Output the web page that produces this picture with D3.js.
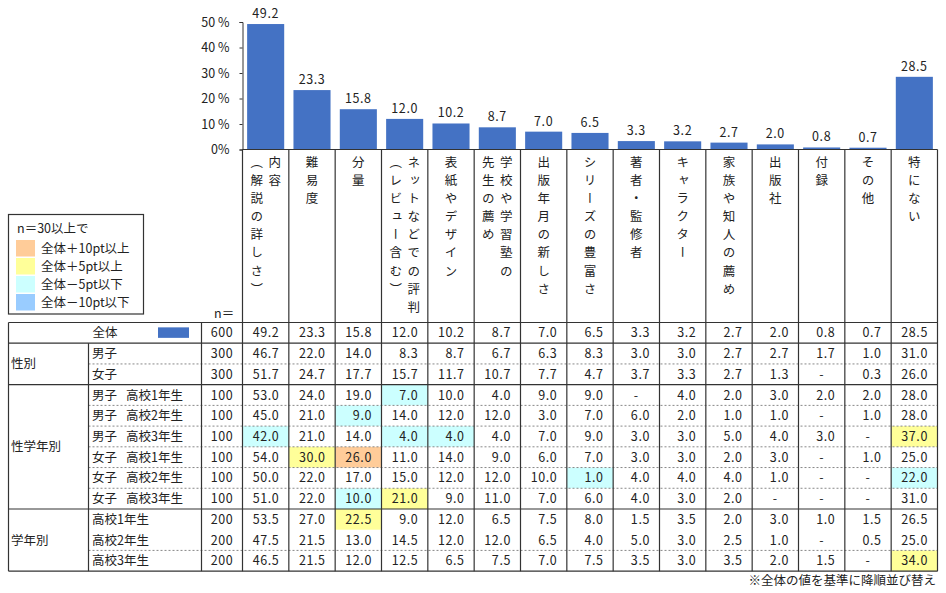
<!DOCTYPE html>
<html lang="ja">
<head>
<meta charset="UTF-8" />
<title>参考書を選ぶ際に重視すること</title>
<script src="https://d3js.org/d3.v7.min.js"></script>
<style>
    body { margin: 0; background: #fff; }
    svg { display: block; font-family: "Noto Sans CJK JP", "Noto Sans", sans-serif; }
    text { fill: #222; font-size: 12.5px; }
    .num { letter-spacing: 0.6px; }
    .vert { writing-mode: vertical-rl; letter-spacing: 5.6px; }
</style>
</head>
<body>
<svg id="chart"></svg>
<script>
    // header texts, one array entry per vertical column of characters (right to left)
    const categories = [
        ["内容", "（解説の詳しさ）"],
        ["難易度"],
        ["分量"],
        ["ネットなどでの評判", "（レビュー含む）"],
        ["表紙やデザイン"],
        ["学校や学習塾の", "先生の薦め"],
        ["出版年月の新しさ"],
        ["シリーズの豊富さ"],
        ["著者・監修者"],
        ["キャラクター"],
        ["家族や知人の薦め"],
        ["出版社"],
        ["付録"],
        ["その他"],
        ["特にない"]
    ];
    const catKeys = categories.map(d => d.join(""));

    const rowGroups = ["全体", "性別", "性別", "性学年別", "性学年別", "性学年別", "性学年別", "性学年別", "性学年別", "学年別", "学年別", "学年別"];
    const rowLabels = ["全体", "男子", "女子",
        "男子\u2002 高校1年生", "男子\u2002 高校2年生", "男子\u2002 高校3年生",
        "女子\u2002 高校1年生", "女子\u2002 高校2年生", "女子\u2002 高校3年生",
        "高校1年生", "高校2年生", "高校3年生"];
    const rowN = [600, 300, 300, 100, 100, 100, 100, 100, 100, 200, 200, 200];

    // null = "-"
    const values = [
        [49.2, 23.3, 15.8, 12.0, 10.2, 8.7, 7.0, 6.5, 3.3, 3.2, 2.7, 2.0, 0.8, 0.7, 28.5],
        [46.7, 22.0, 14.0, 8.3, 8.7, 6.7, 6.3, 8.3, 3.0, 3.0, 2.7, 2.7, 1.7, 1.0, 31.0],
        [51.7, 24.7, 17.7, 15.7, 11.7, 10.7, 7.7, 4.7, 3.7, 3.3, 2.7, 1.3, null, 0.3, 26.0],
        [53.0, 24.0, 19.0, 7.0, 10.0, 4.0, 9.0, 9.0, null, 4.0, 2.0, 3.0, 2.0, 2.0, 28.0],
        [45.0, 21.0, 9.0, 14.0, 12.0, 12.0, 3.0, 7.0, 6.0, 2.0, 1.0, 1.0, null, 1.0, 28.0],
        [42.0, 21.0, 14.0, 4.0, 4.0, 4.0, 7.0, 9.0, 3.0, 3.0, 5.0, 4.0, 3.0, null, 37.0],
        [54.0, 30.0, 26.0, 11.0, 14.0, 9.0, 6.0, 7.0, 3.0, 3.0, 2.0, 3.0, null, 1.0, 25.0],
        [50.0, 22.0, 17.0, 15.0, 12.0, 12.0, 10.0, 1.0, 4.0, 4.0, 4.0, 1.0, null, null, 22.0],
        [51.0, 22.0, 10.0, 21.0, 9.0, 11.0, 7.0, 6.0, 4.0, 3.0, 2.0, null, null, null, 31.0],
        [53.5, 27.0, 22.5, 9.0, 12.0, 6.5, 7.5, 8.0, 1.5, 3.5, 2.0, 3.0, 1.0, 1.5, 26.5],
        [47.5, 21.5, 13.0, 14.5, 12.0, 12.0, 6.5, 4.0, 5.0, 3.0, 2.5, 1.0, null, 0.5, 25.0],
        [46.5, 21.5, 12.0, 12.5, 6.5, 7.5, 7.0, 7.5, 3.5, 3.0, 3.5, 2.0, 1.5, null, 34.0]
    ];

    const yTicks = [0, 10, 20, 30, 40, 50];
    const legendTitle = "n＝30以上で";
    const legendItems = [
        { label: "全体＋10pt以上", color: "#ffcc99" },
        { label: "全体＋5pt以上", color: "#ffff99" },
        { label: "全体－5pt以下", color: "#ccffff" },
        { label: "全体－10pt以下", color: "#99ccff" }
    ];
    const note = "※全体の値を基準に降順並び替え";

    const width = 946, height = 593;
    const svg = d3.select("#chart").attr("width", width).attr("height", height);

    const tableLeft = 8.5, groupRight = 88.5, labelRight = 201.5, dataLeft = 242.5, dataRight = 937.5;
    const plotTop = 22, headerTop = 149.5, tableTop = 322.5, rowH = 20.72;
    const tableBottom = tableTop + rowH * values.length;
    const lineColor = "#333";

    const col = d3.scaleBand().domain(catKeys).range([dataLeft, dataRight]);
    const x = col.copy().paddingInner(0.2).paddingOuter(0.1);
    const y = d3.scaleLinear().domain([0, 50]).range([headerTop, plotTop]);
    const rowY = i => tableTop + i * rowH;

    // highlight class compared with 全体 (n>=30)
    function highlight(v, base, n) {
        if (n < 30) return null;
        const d = Math.round(((v ?? 0) - base) * 10) / 10;
        if (d >= 10) return legendItems[0].color;
        if (d >= 5) return legendItems[1].color;
        if (d <= -10) return legendItems[3].color;
        if (d <= -5) return legendItems[2].color;
        return null;
    }

    // bars
    svg.append("g")
        .selectAll("rect")
        .data(values[0])
        .join("rect")
        .attr("x", (d, i) => x(catKeys[i]))
        .attr("width", x.bandwidth())
        .attr("y", d => y(d))
        .attr("height", d => y(0) - y(d))
        .attr("fill", "#4472c4");

    svg.append("g")
        .attr("text-anchor", "middle")
        .selectAll("text")
        .data(values[0])
        .join("text")
        .attr("class", "num")
        .attr("x", (d, i) => x(catKeys[i]) + x.bandwidth() / 2)
        .attr("y", d => y(d) - 6)
        .text(d => d.toFixed(1));

    // y axis
    const yAxis = svg.append("g")
        .attr("transform", `translate(${dataLeft},0)`)
        .call(d3.axisLeft(y).tickValues(yTicks).tickSize(3).tickPadding(10)
            .tickFormat(d => d === 0 ? "0%" : d + " %"));
    yAxis.select(".domain").attr("stroke", lineColor);
    yAxis.selectAll(".tick line").attr("stroke", lineColor);
    yAxis.selectAll(".tick text").attr("font-size", null).attr("font-family", null).attr("fill", null);
    yAxis.attr("font-size", null).attr("font-family", null);

    // highlight cells
    const cells = [];
    values.forEach((row, r) => row.forEach((v, c) => {
        const fill = r === 0 ? null : highlight(v, values[0][c], rowN[r]);
        if (fill) cells.push({ r, c, fill });
    }));
    svg.append("g")
        .selectAll("rect")
        .data(cells)
        .join("rect")
        .attr("x", d => col(catKeys[d.c]))
        .attr("y", d => rowY(d.r))
        .attr("width", col.bandwidth())
        .attr("height", rowH)
        .attr("fill", d => d.fill);

    // header texts (vertical)
    const header = svg.append("g");
    categories.forEach((lines, i) => {
        const cx = col(catKeys[i]) + col.bandwidth() / 2;
        lines.forEach((t, j) => {
            const off = lines.length === 1 ? 0 : (j === 0 ? 9 : -9);
            header.append("text")
                .attr("class", "vert")
                .attr("x", cx + off)
                .attr("y", 156)
                .style("font-size", "12.5px")
                .text(t);
        });
    });

    // dashed row separators
    const dashed = [];
    for (let r = 1; r < values.length - 1; r++) {
        if (rowGroups[r] === rowGroups[r + 1] && rowLabels[r] !== "高校1年生") dashed.push(r + 1);
    }
    svg.append("g")
        .selectAll("line")
        .data(dashed)
        .join("line")
        .attr("x1", groupRight).attr("x2", dataRight)
        .attr("y1", d => rowY(d)).attr("y2", d => rowY(d))
        .attr("stroke", "#888")
        .attr("stroke-dasharray", "2,2");

    // solid horizontal lines
    const solid = [0];
    for (let r = 0; r < values.length; r++) {
        if (r === values.length - 1 || rowGroups[r] !== rowGroups[r + 1]) solid.push(r + 1);
    }
    const grid = svg.append("g").attr("stroke", lineColor).attr("stroke-width", 1.2);
    grid.selectAll("line.h")
        .data(solid)
        .join("line")
        .attr("class", "h")
        .attr("x1", tableLeft).attr("x2", dataRight)
        .attr("y1", d => rowY(d)).attr("y2", d => rowY(d));
    grid.append("line")
        .attr("x1", dataLeft).attr("x2", dataRight)
        .attr("y1", headerTop).attr("y2", headerTop);

    // vertical lines
    const colEdges = catKeys.map(k => col(k)).concat([dataRight]);
    grid.selectAll("line.v")
        .data(colEdges)
        .join("line")
        .attr("class", "v")
        .attr("x1", d => d).attr("x2", d => d)
        .attr("y1", headerTop).attr("y2", tableBottom);
    grid.append("line").attr("x1", tableLeft).attr("x2", tableLeft).attr("y1", tableTop).attr("y2", tableBottom);
    grid.append("line").attr("x1", labelRight).attr("x2", labelRight).attr("y1", tableTop).attr("y2", tableBottom);
    grid.append("line").attr("x1", groupRight).attr("x2", groupRight).attr("y1", rowY(1)).attr("y2", tableBottom);

    // row texts
    const rows = svg.append("g");
    values.forEach((row, r) => {
        const cy = rowY(r) + rowH / 2;
        if (r === 0) {
            rows.append("text").attr("x", 105).attr("y", cy).attr("dy", "0.36em")
                .attr("text-anchor", "middle").text(rowLabels[r]);
            rows.append("rect").attr("x", 158).attr("y", cy - 5.5)
                .attr("width", 31).attr("height", 10.5).attr("fill", "#4472c4");
        } else {
            rows.append("text").attr("x", 92).attr("y", cy).attr("dy", "0.36em")
                .text(rowLabels[r]);
        }
        rows.append("text").attr("class", "num").attr("x", (labelRight + dataLeft) / 2).attr("y", cy)
            .attr("dy", "0.36em").attr("text-anchor", "middle").text(rowN[r]);
        row.forEach((v, c) => {
            const left = col(catKeys[c]), right = left + col.bandwidth();
            rows.append("text").attr("class", "num")
                .attr("x", v === null ? (left + right) / 2 : right - 9.5)
                .attr("y", cy).attr("dy", "0.36em")
                .attr("text-anchor", v === null ? "middle" : "end")
                .text(v === null ? "-" : v.toFixed(1));
        });
    });

    // group labels
    const groupNames = Array.from(new Set(rowGroups.slice(1)));
    groupNames.forEach(g => {
        const idx = rowGroups.map((d, i) => d === g ? i : -1).filter(i => i >= 0);
        const cy = (rowY(idx[0]) + rowY(idx[idx.length - 1] + 1)) / 2;
        rows.append("text").attr("x", 11).attr("y", cy).attr("dy", "0.36em").text(g);
    });

    // n= label
    svg.append("text").attr("x", 214).attr("y", 313).attr("dy", "0.36em").text("n＝");

    // legend
    const legend = svg.append("g");
    legend.append("rect")
        .attr("x", 8.5).attr("y", 214.5).attr("width", 135).attr("height", 99.5)
        .attr("fill", "#fff").attr("stroke", lineColor).attr("stroke-width", 1.2);
    legend.append("text").attr("x", 17).attr("y", 228).attr("dy", "0.36em").text(legendTitle);
    legend.selectAll("g")
        .data(legendItems)
        .join("g")
        .attr("transform", (d, i) => `translate(16,${240 + i * 18})`)
        .call(g => g.append("rect").attr("width", 19).attr("height", 16.5).attr("fill", d => d.color))
        .call(g => g.append("text").attr("x", 25).attr("y", 8.5).attr("dy", "0.36em").text(d => d.label));

    // note
    svg.append("text").attr("x", 936).attr("y", 580).attr("dy", "0.36em")
        .attr("text-anchor", "end").text(note);
</script>
</body>
</html>
